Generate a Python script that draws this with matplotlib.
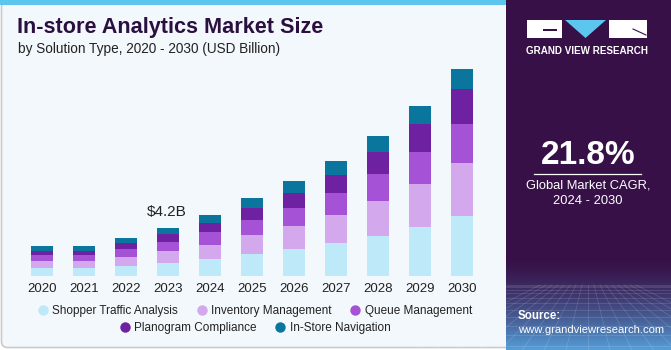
import matplotlib.pyplot as plt
import numpy as np
from matplotlib.patches import Rectangle, FancyBboxPatch, Polygon
from matplotlib.lines import Line2D

plt.rcParams['font.family'] = ['Liberation Sans', 'DejaVu Sans']

# data (USD Billion)
years = ['2020', '2021', '2022', '2023', '2024', '2025', '2026', '2027', '2028', '2029', '2030']
shopper_traffic = [0.70, 0.69, 0.90, 1.14, 1.49, 1.93, 2.34, 2.86, 3.53, 4.29, 5.25]
inventory_mgmt = [0.61, 0.60, 0.76, 1.02, 1.25, 1.64, 2.01, 2.48, 3.04, 3.76, 4.66]
queue_mgmt = [0.53, 0.52, 0.70, 0.79, 1.09, 1.31, 1.60, 1.90, 2.34, 2.80, 3.39]
planogram = [0.38, 0.38, 0.50, 0.70, 0.81, 1.10, 1.31, 1.63, 1.98, 2.48, 3.04]
navigation = [0.41, 0.41, 0.46, 0.55, 0.70, 0.85, 1.02, 1.17, 1.35, 1.52, 1.75]

series_names = ['Shopper Traffic Analysis', 'Inventory Management', 'Queue Management',
                'Planogram Compliance', 'In-Store Navigation']
colors = ['#BEE9F8', '#D4A8EC', '#A552D6', '#6E21A0', '#0A769E']

fig = plt.figure(figsize=(6.71, 3.5), dpi=100)
fig.patch.set_facecolor('white')

# background / panels, in pixel coords
bg = fig.add_axes([0, 0, 1, 1], zorder=-1)
bg.set_xlim(0, 671)
bg.set_ylim(350, 0)
bg.axis('off')
bg.add_patch(FancyBboxPatch((1.5, 1.5), 520, 346, boxstyle='round,pad=0,rounding_size=6',
                            facecolor='#F3F8FC', edgecolor='#C9CBCD', lw=1.2))
bg.add_patch(Rectangle((0, 0), 506, 4.5, facecolor='#5CC6EE', edgecolor='none'))
bg.add_patch(Rectangle((506, 0), 165, 350, facecolor='#361046', edgecolor='none'))

# gradient at the bottom of the right panel
grad = np.linspace(0, 1, 100).reshape(-1, 1) ** 1.5
c0 = np.array([0x36, 0x10, 0x46]) / 255
c1 = np.array([0x55, 0x9E, 0xD8]) / 255
img = c0 + grad[..., None] * (c1 - c0)
img = np.repeat(img, 2, axis=1)
bg.imshow(img, extent=(506, 671, 350, 255), aspect='auto', zorder=1)
for k in range(12):
    yy = 285 + k * k * 0.5
    bg.plot([506, 671], [yy, yy], color='white', alpha=0.14, lw=0.6, zorder=2)
for k in range(-8, 9):
    bg.plot([588 + k * 6, 588 + k * 22], [285, 350], color='white', alpha=0.14, lw=0.6, zorder=2)

# logo
bg.add_patch(Rectangle((527, 20), 35, 18, facecolor='white', edgecolor='none', zorder=3))
bg.add_patch(Rectangle((543, 29), 14, 2, facecolor='#361046', edgecolor='none', zorder=4))
bg.add_patch(Polygon([(565, 20), (606, 20), (585.5, 38)], closed=True,
                     facecolor='#5CC6EE', edgecolor='none', zorder=3))
bg.add_patch(Rectangle((609, 20), 38, 18, facecolor='white', edgecolor='none', zorder=3))
bg.plot([633, 646], [29, 35], color='#361046', lw=0.8, zorder=4)
bg.text(587.5, 51, 'GRAND VIEW RESEARCH', color='white', fontsize=7.1, fontweight='bold',
        ha='center', va='center', zorder=4)

bg.text(588, 155, '21.8%', color='white', fontsize=24, fontweight='bold',
        ha='center', va='center', zorder=4)
bg.plot([534, 641], [173.5, 173.5], color='white', lw=0.9, zorder=4)
bg.text(588, 186, 'Global Market CAGR,', color='white', fontsize=9.3,
        ha='center', va='center', zorder=4)
bg.text(588, 201, '2024 - 2030', color='white', fontsize=9.3,
        ha='center', va='center', zorder=4)
bg.text(518, 316, 'Source:', color='white', fontsize=8.3, fontweight='bold',
        ha='left', va='center', zorder=4)
bg.text(518, 330, 'www.grandviewresearch.com', color='white', fontsize=8.1,
        ha='left', va='center', zorder=4)

# titles
bg.text(17, 27, 'In-store Analytics Market Size', color='#2B0F40', fontsize=15.6,
        fontweight='bold', ha='left', va='center')
bg.text(18, 49, 'by Solution Type, 2020 - 2030 (USD Billion)', color='#222222', fontsize=9.8,
        ha='left', va='center')

# chart
ax = fig.add_axes([21 / 671, 74 / 350, 462 / 671, 216 / 350])
ax.set_facecolor('none')
x = np.arange(len(years))
bottom = np.zeros(len(years))
for vals, name, col in zip([shopper_traffic, inventory_mgmt, queue_mgmt, planogram, navigation],
                           series_names, colors):
    ax.bar(x, vals, bottom=bottom, width=0.54, color=col, label=name, edgecolor='none')
    bottom += np.array(vals)

ax.text(x[3] - 0.03, bottom[3] + 0.75, '$4.2B', ha='center', va='bottom', fontsize=11, color='#222222')

ax.set_xlim(-0.5, 10.5)
ax.set_ylim(0, 18.9)
ax.set_xticks(x)
ax.set_xticklabels(years)
ax.tick_params(axis='x', length=0, pad=5, labelsize=9.5, labelcolor='#222222')
ax.set_yticks([])
for s in ax.spines.values():
    s.set_visible(False)

# legend, two centered rows
handles = [Line2D([], [], marker='o', ls='none', markersize=7.5, color=c,
                  markeredgecolor='none') for c in colors]
leg1 = fig.legend(handles[:3], series_names[:3], loc='center', ncol=3,
                  bbox_to_anchor=(254 / 671, 1 - 311 / 350), frameon=False, fontsize=8.5,
                  handletextpad=0.2, columnspacing=1.4, handlelength=1.2)
leg2 = fig.legend(handles[3:], series_names[3:], loc='center', ncol=2,
                  bbox_to_anchor=(254 / 671, 1 - 328 / 350), frameon=False, fontsize=8.5,
                  handletextpad=0.2, columnspacing=1.4, handlelength=1.2)
for lg in (leg1, leg2):
    for t in lg.get_texts():
        t.set_color('#222222')

fig.savefig('out.png', dpi=100, facecolor=fig.get_facecolor())
